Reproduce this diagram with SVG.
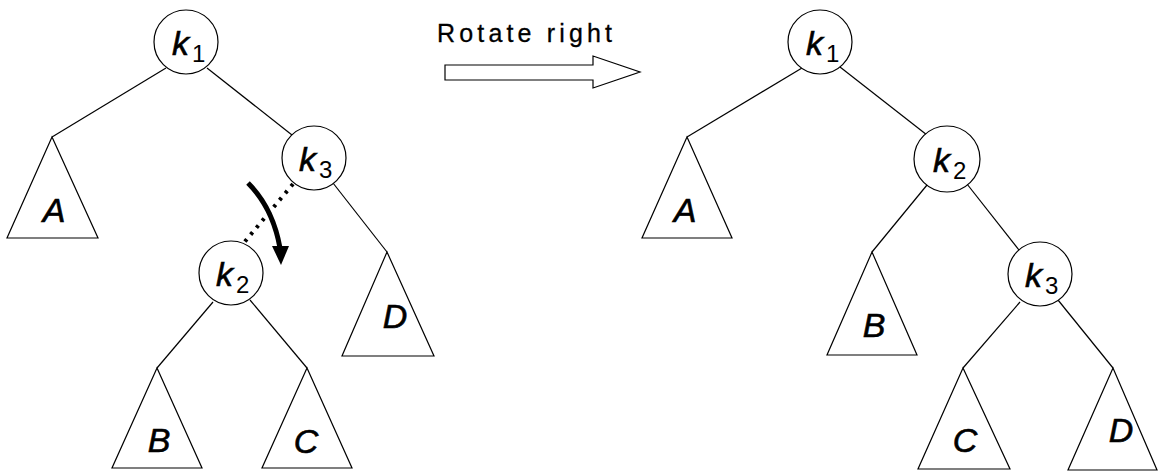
<svg xmlns="http://www.w3.org/2000/svg" width="1158" height="472" viewBox="0 0 1158 472">
<style>
.edge{stroke:#000;stroke-width:1.2;fill:none}
.node circle{fill:#fff;stroke:#000;stroke-width:1.2}
.tri polygon{fill:#fff;stroke:#000;stroke-width:1.2;stroke-linejoin:miter}
.lbl{font-family:"Liberation Sans",Arial,sans-serif;font-style:italic;font-size:34px;fill:#000;text-anchor:middle;stroke:#000;stroke-width:0.6}
.k{font-family:"Liberation Sans",Arial,sans-serif;font-style:italic;font-size:34px;fill:#000;stroke:#000;stroke-width:0.6}
.sub{font-family:"Liberation Sans",Arial,sans-serif;font-size:24px;fill:#000;font-style:normal;stroke:none}
</style>
<rect width="1158" height="472" fill="#fff"/>
<g id="connectors">
<line class="edge" x1="166" y1="68" x2="52" y2="137"/>
<line class="edge" x1="207" y1="68" x2="292" y2="135"/>
<line class="edge" x1="333" y1="183" x2="387" y2="252"/>
<line x1="293" y1="184" x2="237" y2="251" stroke="#000" stroke-width="4" stroke-dasharray="3 6"/>
<line class="edge" x1="213" y1="302" x2="157" y2="368"/>
<line class="edge" x1="250" y1="300" x2="307" y2="368"/>
<line class="edge" x1="802" y1="68" x2="687" y2="137"/>
<line class="edge" x1="840" y1="67" x2="927" y2="135"/>
<line class="edge" x1="927" y1="185" x2="872" y2="252"/>
<line class="edge" x1="967" y1="184" x2="1019" y2="250"/>
<line class="edge" x1="1020" y1="302" x2="963" y2="368"/>
<line class="edge" x1="1058" y1="300" x2="1113" y2="368"/>
</g>
<g id="rotate-arrow">
<path d="M248,183 Q273,208 280,248" fill="none" stroke="#000" stroke-width="5" stroke-linecap="butt"/>
<polygon points="272,246 289,246 281,265" fill="#000"/>
</g>
<g id="rotate-right">
<text x="437" y="42" font-family="Liberation Sans, Arial, sans-serif" font-size="25" textLength="175" lengthAdjust="spacing" fill="#000" stroke="#000" stroke-width="0.3">Rotate right</text>
<polygon points="445,65 593,65 593,56 640,72 593,88 593,80 445,80" fill="#fff" stroke="#000" stroke-width="1.2"/>
</g>
<g id="L-k1" class="node"><circle cx="186" cy="42" r="32"/><text class="k" x="172" y="55">k</text><text class="sub" x="192" y="62">1</text></g>
<g id="L-k3" class="node"><circle cx="314" cy="158" r="32"/><text class="k" x="299" y="171">k</text><text class="sub" x="319" y="178">3</text></g>
<g id="L-k2" class="node"><circle cx="231" cy="273" r="32"/><text class="k" x="216" y="286">k</text><text class="sub" x="236" y="293">2</text></g>
<g id="L-A" class="tri"><polygon points="52,137 7,238 98,238"/><text class="lbl" x="54" y="222">A</text></g>
<g id="L-D" class="tri"><polygon points="387,252 342,356 434,356"/><text class="lbl" x="395" y="328">D</text></g>
<g id="L-B" class="tri"><polygon points="157,368 112,468 202,468"/><text class="lbl" x="159" y="452">B</text></g>
<g id="L-C" class="tri"><polygon points="307,368 262,468 352,468"/><text class="lbl" x="306" y="453">C</text></g>
<g id="R-k1" class="node"><circle cx="820" cy="42" r="32"/><text class="k" x="806" y="55">k</text><text class="sub" x="826" y="62">1</text></g>
<g id="R-k2" class="node"><circle cx="947" cy="159" r="33"/><text class="k" x="933" y="172">k</text><text class="sub" x="953" y="179">2</text></g>
<g id="R-k3" class="node"><circle cx="1040" cy="274" r="32"/><text class="k" x="1025" y="287">k</text><text class="sub" x="1045" y="294">3</text></g>
<g id="R-A" class="tri"><polygon points="687,137 642,238 732,238"/><text class="lbl" x="685" y="222">A</text></g>
<g id="R-B" class="tri"><polygon points="872,252 827,355 917,355"/><text class="lbl" x="874" y="337">B</text></g>
<g id="R-C" class="tri"><polygon points="963,368 918,469 1010,469"/><text class="lbl" x="965" y="452">C</text></g>
<g id="R-D" class="tri"><polygon points="1113,368 1068,470 1157,470"/><text class="lbl" x="1121" y="442">D</text></g>
</svg>
